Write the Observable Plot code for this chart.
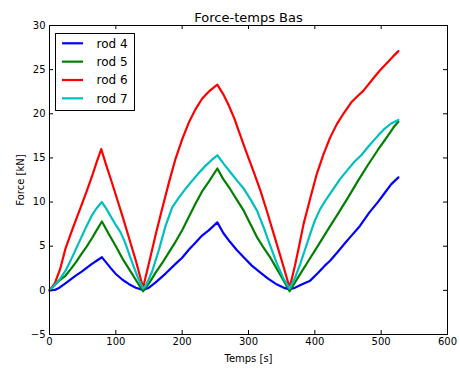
<!DOCTYPE html>
<html>
<head>
<meta charset="utf-8">
<script src="https://cdn.jsdelivr.net/npm/d3@7"></script>
<script src="https://cdn.jsdelivr.net/npm/@observablehq/plot@0.6"></script>
<style>
  html, body { margin: 0; padding: 0; background: white; }
</style>
</head>
<body>
<script>
// ---- data ----
const titleText = "Force-temps Bas";
const xLabel = "Temps [s]";
const yLabel = "Force [kN]";
const seriesNames = ["rod 4", "rod 5", "rod 6", "rod 7"];
const seriesColors = ["#0000ff", "#008000", "#ff0000", "#00bfbf"];
const xTicks = [0, 100, 200, 300, 400, 500, 600];
const yTicks = [-5, 0, 5, 10, 15, 20, 25, 30];

const rod4T = [0, 8, 15, 24, 32, 40, 48, 56, 64, 71, 79, 85, 92, 100, 110, 120, 130, 141, 150, 160, 175, 190, 200, 210, 220, 230, 240, 253, 262, 272, 282, 292, 305, 318, 330, 343, 355, 362, 370, 380, 393, 405, 415, 423, 435, 445, 453, 468, 482, 495, 505, 515, 526];
const rod4F = [0, 0.05, 0.3, 0.8, 1.25, 1.7, 2.1, 2.55, 3.0, 3.35, 3.75, 3.2, 2.55, 1.85, 1.2, 0.7, 0.3, 0.05, 0.3, 0.9, 1.9, 3.0, 3.7, 4.6, 5.4, 6.2, 6.8, 7.7, 6.5, 5.5, 4.6, 3.8, 2.8, 2.0, 1.3, 0.65, 0.25, 0.1, 0.3, 0.65, 1.1, 2.0, 2.8, 3.35, 4.4, 5.3, 6.0, 7.3, 8.8, 10.0, 11.0, 12.0, 12.8];

const rod5T = [0, 8, 16, 24, 32, 40, 48, 56, 64, 71, 79, 90, 100, 110, 120, 130, 141, 150, 160, 170, 180, 190, 200, 210, 220, 230, 240, 253, 262, 273, 283, 293, 303, 313, 323, 333, 343, 353, 362, 375, 390, 405, 420, 435, 450, 465, 480, 495, 510, 520, 526];
const rod5F = [0, 0.6, 1.2, 1.65, 2.4, 3.2, 4.1, 4.95, 5.9, 6.8, 7.8, 6.3, 5.0, 3.6, 2.4, 1.2, -0.1, 0.8, 2.0, 3.1, 4.3, 5.5, 6.8, 8.3, 9.8, 11.2, 12.3, 13.8, 12.6, 11.4, 10.2, 9.0, 7.5, 6.0, 4.8, 3.7, 2.4, 1.1, -0.1, 1.5, 3.3, 5.1, 6.9, 8.7, 10.5, 12.4, 14.2, 15.9, 17.5, 18.6, 19.1];

const rod6T = [0, 8, 16, 24, 32, 40, 48, 56, 64, 71, 78, 85, 92, 100, 110, 120, 130, 141, 150, 160, 170, 180, 190, 200, 210, 220, 230, 240, 253, 262, 270, 279, 287, 296, 307, 318, 328, 338, 350, 362, 370, 376, 383, 393, 403, 413, 423, 433, 443, 455, 463, 473, 488, 498, 508, 518, 526];
const rod6F = [0, 0.8, 2.4, 4.7, 6.4, 8.0, 9.6, 11.2, 12.9, 14.5, 16.0, 14.3, 12.7, 10.8, 8.4, 5.9, 3.4, 0.3, 3.1, 6.3, 9.3, 12.2, 14.9, 17.1, 19.0, 20.5, 21.7, 22.5, 23.3, 22.2, 21.0, 19.4, 17.7, 15.8, 13.6, 11.3, 8.9, 6.4, 3.4, 0.3, 2.8, 4.9, 7.5, 10.4, 13.2, 15.4, 17.3, 18.8, 20.0, 21.3, 21.9, 22.6, 24.0, 24.9, 25.7, 26.5, 27.1];

const rod7T = [0, 8, 16, 24, 32, 40, 48, 56, 64, 71, 79, 86, 93, 100, 107, 114, 121, 128, 134, 141, 145, 155, 165, 175, 185, 195, 205, 215, 225, 235, 245, 253, 263, 273, 283, 293, 303, 313, 323, 333, 343, 353, 362, 370, 378, 386, 393, 400, 408, 418, 428, 438, 450, 460, 470, 482, 495, 505, 515, 526];
const rod7F = [0, 0.6, 1.3, 2.2, 3.4, 4.7, 6.0, 7.3, 8.5, 9.3, 10.0, 9.2, 8.3, 7.4, 6.6, 5.4, 3.9, 2.5, 1.3, 0.2, 0.5, 2.2, 4.6, 7.3, 9.4, 10.5, 11.5, 12.4, 13.3, 14.1, 14.8, 15.3, 14.3, 13.35, 12.4, 11.5, 10.3, 9.0, 7.1, 5.0, 3.0, 1.3, 0.2, 1.4, 3.0, 4.8, 6.4, 7.9, 9.2, 10.4, 11.5, 12.6, 13.7, 14.6, 15.3, 16.4, 17.5, 18.3, 18.9, 19.3];

// ---- build table ----
const seriesT = [rod4T, rod5T, rod6T, rod7T];
const seriesF = [rod4F, rod5F, rod6F, rod7F];
const rows = [];
seriesNames.forEach((name, i) => {
  seriesT[i].forEach((t, j) => rows.push({series: name, t, f: seriesF[i][j]}));
});

// ---- layout ----
const W = 460, H = 370;
const mL = 49, mR = 13, mT = 25, mB = 36;
const frameW = W - mL - mR, frameH = H - mT - mB;
const tickLen = 4;
const fmt = d => d < 0 ? "\u2212" + Math.abs(d) : String(d);

const chart = Plot.plot({
  width: W,
  height: H,
  marginLeft: mL,
  marginRight: mR,
  marginTop: mT,
  marginBottom: mB,
  style: {fontFamily: "'DejaVu Sans', sans-serif", fontSize: "10px", background: "white", color: "black"},
  x: {domain: [0, 600]},
  y: {domain: [-5, 30]},
  color: {domain: seriesNames, range: seriesColors},
  marks: [
    Plot.line(rows, {x: "t", y: "f", z: "series", stroke: "series", strokeWidth: 2.2, curve: "linear"}),
    Plot.tickX(xTicks, {x: d => d, insetTop: frameH - tickLen, strokeWidth: 1}),
    Plot.tickX(xTicks, {x: d => d, insetBottom: frameH - tickLen, strokeWidth: 1}),
    Plot.tickY(yTicks, {y: d => d, insetRight: frameW - tickLen, strokeWidth: 1}),
    Plot.tickY(yTicks, {y: d => d, insetLeft: frameW - tickLen, strokeWidth: 1}),
    Plot.frame({stroke: "black", strokeWidth: 1}),
    Plot.axisX({ticks: xTicks, tickSize: 0, tickPadding: 3, label: null, tickFormat: fmt, fontSize: 10}),
    Plot.axisY({ticks: yTicks, tickSize: 0, tickPadding: 4, label: null, tickFormat: fmt, fontSize: 10}),
    Plot.text([xLabel], {text: d => d, frameAnchor: "bottom", lineAnchor: "middle", textAnchor: "middle", dy: 24, fontSize: 10}),
    Plot.text([yLabel], {text: d => d, frameAnchor: "left", lineAnchor: "middle", textAnchor: "middle", dx: -29, rotate: -90, fontSize: 10}),
    Plot.text([titleText], {text: d => d, frameAnchor: "top", lineAnchor: "middle", textAnchor: "middle", dy: -8, fontSize: 13})
  ]
});
document.body.appendChild(chart);

// ---- legend ----
const svg = d3.select(chart);
const lg = svg.append("g").attr("font-family", "'DejaVu Sans', sans-serif").attr("font-size", 12).attr("text-anchor", "start");
lg.append("rect")
  .attr("x", 55.5).attr("y", 33.5).attr("width", 79).attr("height", 77)
  .attr("fill", "white").attr("stroke", "black").attr("stroke-width", 1);
seriesNames.forEach((n, i) => {
  const y = 43.3 + i * 18.35;
  lg.append("line").attr("x1", 62).attr("x2", 83).attr("y1", y).attr("y2", y)
    .attr("stroke", seriesColors[i]).attr("stroke-width", 2.2);
  lg.append("text").attr("x", 96.5).attr("y", y).attr("dy", "0.35em").attr("fill", "black").attr("text-anchor", "start").text(n);
});
</script>
</body>
</html>
